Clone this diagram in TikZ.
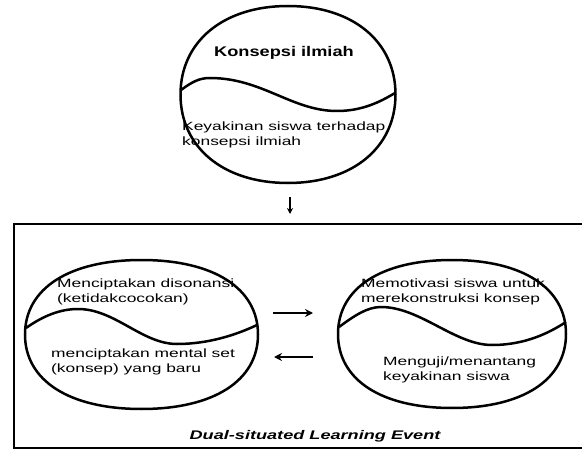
\documentclass[tikz,border=0pt]{standalone}
\usepackage{fontspec}
\newfontfamily\labelfont[FakeStretch=1.45]{Liberation Sans}
\newfontfamily\titlefont[FakeStretch=1.3]{Liberation Sans}
\usetikzlibrary{shapes.geometric,arrows.meta}
\begin{document}
\begin{tikzpicture}[x=1pt,y=-1pt,
  outline/.style={line width=2.5pt},
  wave/.style={line width=2.5pt},
  anchorbox/.style={ellipse,inner sep=0pt},
  txt/.style={inner sep=0pt,align=left,font=\labelfont\fontsize{12}{15}\selectfont},
  flow/.style={line width=2.2pt,-{Stealth[length=8pt,width=8pt]}},
  frame/.style={line width=2.2pt}]
\useasboundingbox[fill=white] (0,0) rectangle (582,452);

% outer frame of the learning event
\draw[frame] (590,224) -- (14,224) -- (14,448) -- (590,448);

% top oval: scientific conception
\node[anchorbox,minimum width=215pt,minimum height=177pt] (top) at (288,94.5) {};
\draw[outline] (395.5,94.5) .. controls (395.5,147.6) and (352.5,183) .. (288,183)
  .. controls (223.5,183) and (180.5,147.6) .. (180.5,94.5)
  .. controls (180.5,41.4) and (223.5,6) .. (288,6)
  .. controls (352.5,6) and (395.5,41.4) .. cycle;
\draw[wave] (181,90) .. controls (192,82) and (199,78) .. (210,78)
  .. controls (262,78) and (292,111) .. (337,111)
  .. controls (362,111) and (380,102) .. (395,93);
\node[inner sep=0pt,font=\titlefont\bfseries\fontsize{14}{16}\selectfont] (t1) at (284,53) {Konsepsi ilmiah};
\node[txt,anchor=west] (t2) at (182,135) {Keyakinan siswa terhadap\\konsepsi ilmiah};

% left oval
\node[anchorbox,minimum width=233pt,minimum height=149pt] (L) at (141.5,334.5) {};
\draw[outline] (258,334.5) .. controls (258,380.7) and (213.7,409) .. (141.5,409)
  .. controls (69.3,409) and (25,380.7) .. (25,334.5)
  .. controls (25,288.3) and (69.3,260) .. (141.5,260)
  .. controls (213.7,260) and (258,288.3) .. cycle;
\draw[wave] (26,328) .. controls (43,316) and (60,309) .. (78,309)
  .. controls (115,309) and (142,344) .. (177,344)
  .. controls (208,344) and (236,335) .. (257,325);
\node[txt,anchor=west] (l1) at (57,292) {Menciptakan disonansi\\(ketidakcocokan)};
\node[txt,anchor=west] (l2) at (51,362) {menciptakan mental set\\(konsep) yang baru};

% right oval
\node[anchorbox,minimum width=228pt,minimum height=148pt] (R) at (452,334) {};
\draw[outline] (566,334) .. controls (566,379.9) and (522.7,408) .. (452,408)
  .. controls (381.3,408) and (338,379.9) .. (338,334)
  .. controls (338,288.1) and (381.3,260) .. (452,260)
  .. controls (522.7,260) and (566,288.1) .. cycle;
\draw[wave] (339,327) .. controls (354,316) and (367,307) .. (381,307)
  .. controls (420,307) and (455,345) .. (492,345)
  .. controls (525,345) and (549,333) .. (566,322);
\node[txt,anchor=west] (r1) at (361,292) {Memotivasi siswa untuk\\merekonstruksi konsep};
\node[txt,anchor=west] (r2) at (383,370) {Menguji/menantang\\keyakinan siswa};

% connectors
\coordinate (a1) at (290,197);
\coordinate (a2) at (290,214);
\draw[flow,line width=1.6pt,-{Stealth[length=6pt,width=6pt]}] (a1) -- (a2);
\coordinate (b1) at (273,313);
\coordinate (b2) at (313,313);
\draw[flow] (b1) -- (b2);
\coordinate (c1) at (313,357);
\coordinate (c2) at (274,357);
\draw[flow] (c1) -- (c2);

\node[inner sep=0pt,font=\labelfont\bfseries\itshape\fontsize{12.5}{15}\selectfont] (ev) at (315,436) {Dual-situated Learning Event};
\end{tikzpicture}
\end{document}
